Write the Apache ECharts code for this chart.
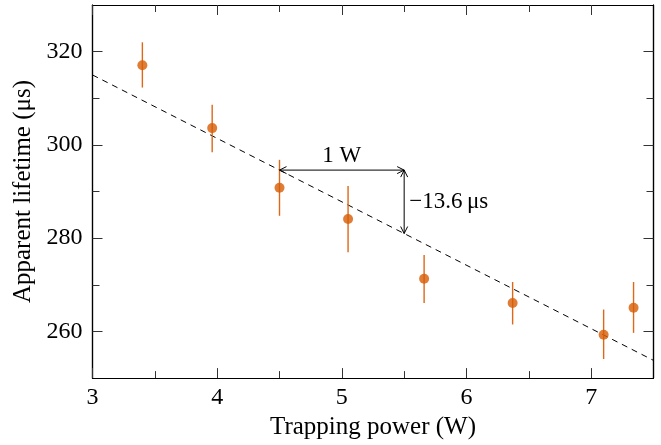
<!DOCTYPE html>
<html>
<head>
<meta charset="utf-8">
<script src="https://cdn.jsdelivr.net/npm/echarts@6/dist/echarts.min.js"></script>
<style>
html,body{margin:0;padding:0;background:#fff;}
#chart{width:661px;height:445px;}
</style>
</head>
<body>
<div id="chart"></div>
<script>
// ---- data ----
const xPower   = [3.40, 3.96, 4.50, 5.05, 5.66, 6.37, 7.10, 7.34];
const lifetime = [317.1, 303.6, 290.8, 284.1, 271.3, 266.1, 259.3, 265.1];
const errLow   = [312.3, 298.4, 284.8, 277.0, 266.1, 261.5, 254.1, 259.7];
const errHigh  = [322.0, 308.6, 296.8, 291.2, 276.4, 270.6, 264.7, 270.6];
const fitX = [3.0, 7.5];
const fitY = [315.0, 253.8];
const xMajorTicks = [3, 4, 5, 6, 7];
const xMinorTicks = [3.5, 4.5, 5.5, 6.5];
const yMajorTicks = [260, 280, 300, 320];
const yMinorTicks = [270, 290, 310];
const arrowH = {x0: 4.5, x1: 5.5, y: 294.6, label: '1 W'};
const arrowV = {x: 5.5, y0: 294.6, y1: 281.0, label: '\u221213.6\u2009\u03bcs'};

const FONT = 'Liberation Serif';
const ORANGE = '#d75d04';
const ERR = '#dd6818';

const chart = echarts.init(document.getElementById('chart'), null, {renderer: 'canvas'});

function mkX(pos, ticks, len, labels, name) {
  return {
    type: 'value', position: pos, min: 3, max: 7.5, interval: 0.5,
    axisLine: {show: true, onZero: false, lineStyle: {color: '#000', width: 1.2}},
    axisTick: {show: true, inside: true, length: len, customValues: ticks, lineStyle: {color: '#333', width: 1}},
    axisLabel: labels ? {show: true, customValues: xMajorTicks, margin: 8, color: '#000', fontFamily: FONT, fontSize: 24} : {show: false},
    splitLine: {show: false},
    name: name || '', nameLocation: 'middle', nameGap: 32,
    nameTextStyle: {color: '#000', fontFamily: FONT, fontSize: 25}
  };
}
function mkY(pos, ticks, len, labels, name) {
  return {
    type: 'value', position: pos, min: 250, max: 330, interval: 10,
    axisLine: {show: true, onZero: false, lineStyle: {color: '#000', width: 1.2}},
    axisTick: {show: true, inside: true, length: len, customValues: ticks, lineStyle: {color: '#333', width: 1}},
    axisLabel: labels ? {show: true, customValues: yMajorTicks, margin: 10, color: '#000', fontFamily: FONT, fontSize: 24} : {show: false},
    splitLine: {show: false},
    name: name || '', nameLocation: 'middle', nameGap: 57,
    nameTextStyle: {color: '#000', fontFamily: FONT, fontSize: 25}
  };
}

function arrowHead(p, dx, dy) {
  const L = 7, W = 3.5;
  const bx = p[0] - dx * L, by = p[1] - dy * L;
  const nx = -dy, ny = dx;
  return {
    type: 'polyline',
    shape: {points: [[bx + nx * W, by + ny * W], p, [bx - nx * W, by - ny * W]]},
    style: {stroke: '#000', lineWidth: 1, fill: null}
  };
}

const option = {
  animation: false,
  backgroundColor: '#fff',
  grid: {left: 92.5, right: 7.5, top: 5, bottom: 66, containLabel: false},
  xAxis: [
    mkX('bottom', xMajorTicks, 10, true, 'Trapping power (W)'),
    mkX('bottom', xMinorTicks, 7, false),
    mkX('top', xMajorTicks, 10, false),
    mkX('top', xMinorTicks, 7, false)
  ],
  yAxis: [
    mkY('left', yMajorTicks, 10, true, 'Apparent lifetime (\u03bcs)'),
    mkY('left', yMinorTicks, 7, false),
    mkY('right', yMajorTicks, 10, false),
    mkY('right', yMinorTicks, 7, false)
  ],
  series: [
    {
      type: 'line', name: 'fit', data: fitX.map((x, i) => [x, fitY[i]]),
      showSymbol: false, symbol: 'none', silent: true, z: 2,
      lineStyle: {color: '#000', width: 1, type: [6, 5]}
    },
    {
      type: 'custom', name: 'err', z: 3,
      data: xPower.map((x, i) => [x, errLow[i], errHigh[i]]),
      renderItem: function (params, api) {
        const a = api.coord([api.value(0), api.value(1)]);
        const b = api.coord([api.value(0), api.value(2)]);
        return {type: 'line', shape: {x1: a[0], y1: a[1], x2: b[0], y2: b[1]},
          style: {stroke: ERR, lineWidth: 1.4}};
      }
    },
    {
      type: 'scatter', name: 'data', z: 4,
      data: xPower.map((x, i) => [x, lifetime[i]]),
      symbol: 'circle', symbolSize: 10,
      itemStyle: {color: ORANGE}
    },
    {
      type: 'custom', name: 'annot', z: 5, silent: true,
      data: [[0]],
      renderItem: function (params, api) {
        const h0 = api.coord([arrowH.x0, arrowH.y]);
        const h1 = api.coord([arrowH.x1, arrowH.y]);
        const v0 = api.coord([arrowV.x, arrowV.y0]);
        const v1 = api.coord([arrowV.x, arrowV.y1]);
        const hm = api.coord([(arrowH.x0 + arrowH.x1) / 2, arrowH.y]);
        const vm = api.coord([arrowV.x, (arrowV.y0 + arrowV.y1) / 2]);
        return {
          type: 'group',
          children: [
            {type: 'line', shape: {x1: h0[0], y1: h0[1], x2: h1[0], y2: h1[1]}, style: {stroke: '#000', lineWidth: 1}},
            arrowHead(h0, -1, 0), arrowHead(h1, 1, 0),
            {type: 'line', shape: {x1: v0[0], y1: v0[1], x2: v1[0], y2: v1[1]}, style: {stroke: '#000', lineWidth: 1}},
            arrowHead([v0[0], v0[1]], 0, -1), arrowHead(v1, 0, 1),
            {type: 'text', x: hm[0], y: hm[1] - 3,
              style: {text: arrowH.label, fill: '#000', font: '23px "' + FONT + '"', align: 'center', verticalAlign: 'bottom'}},
            {type: 'text', x: vm[0] + 5, y: vm[1],
              style: {text: arrowV.label, fill: '#000', font: '23px "' + FONT + '"', align: 'left', verticalAlign: 'middle'}}
          ]
        };
      }
    }
  ]
};
chart.setOption(option);
</script>
</body>
</html>
